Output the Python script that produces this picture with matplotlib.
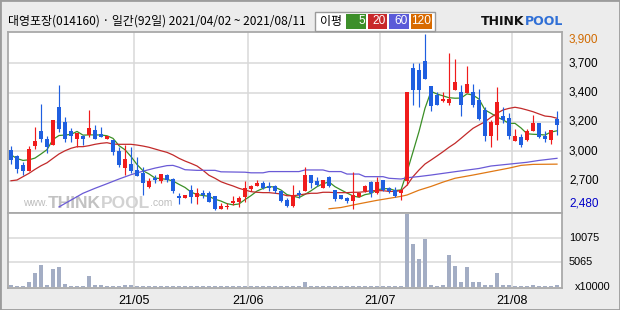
import numpy as np
import pandas as pd
import matplotlib
matplotlib.use("Agg")
import matplotlib.pyplot as plt
from matplotlib.patches import Rectangle

plt.rcParams['font.family'] = ['Liberation Sans', 'Noto Sans CJK KR', 'DejaVu Sans']

# ---------------- data ----------------
title = "대영포장(014160) · 일간(92일) 2021/04/02 ~ 2021/08/11"
holidays = ["2021-05-05", "2021-05-19"]
dates = pd.bdate_range("2021-04-02", "2021-08-11").drop(pd.to_datetime(holidays))

opens = [2965, 2915, 2845, 2795, 2995, 3115, 3055, 3005, 3310, 3190,
         3115, 3050, 3075, 3085, 3125, 3095, 3055, 3045, 2960, 2815,
         2850, 2805, 2780, 2665, 2735, 2715, 2760, 2730, 2590, 2580,
         2640, 2585, 2620, 2620, 2590, 2490, 2505, 2540, 2545, 2585,
         2650, 2675, 2700, 2670, 2675, 2635, 2560, 2510, 2615, 2635,
         2760, 2710, 2660, 2745, 2640, 2600, 2575, 2555, 2585, 2630,
         2705, 2615, 2720, 2655, 2640, 2615, 2715, 3625, 3610, 3680,
         3480, 3410, 3360, 3345, 3445, 3430, 3425, 3430, 3365, 3290,
         3075, 3165, 3240, 3220, 3040, 3065, 3045, 3115, 3185, 3075,
         3045, 3215]
highs = [2995, 2925, 2870, 2995, 3150, 3335, 3075, 3205, 3485, 3230,
         3140, 3105, 3085, 3285, 3165, 3150, 3080, 3045, 2985, 3005,
         2990, 2910, 2825, 2740, 2760, 2770, 2770, 2740, 2615, 2605,
         2680, 2660, 2640, 2635, 2590, 2540, 2535, 2595, 2595, 2710,
         2680, 2720, 2710, 2705, 2680, 2640, 2575, 2680, 2645, 2825,
         2760, 2745, 2720, 2755, 2645, 2605, 2585, 2785, 2620, 2680,
         2710, 2750, 2725, 2665, 2665, 2645, 3430, 3665, 3665, 3900,
         3480, 3435, 3430, 3750, 3700, 3490, 3640, 3495, 3455, 3315,
         3205, 3475, 3315, 3260, 3130, 3095, 3130, 3250, 3185, 3115,
         3125, 3275]
lows = [2850, 2780, 2760, 2795, 2970, 3030, 2940, 3005, 3110, 3030,
        3030, 2985, 3005, 3070, 3055, 3070, 3050, 2920, 2825, 2765,
        2775, 2755, 2600, 2660, 2700, 2700, 2705, 2620, 2530, 2575,
        2540, 2530, 2575, 2545, 2480, 2485, 2485, 2520, 2505, 2545,
        2635, 2670, 2650, 2635, 2615, 2545, 2505, 2505, 2575, 2630,
        2655, 2675, 2655, 2665, 2555, 2565, 2540, 2490, 2585, 2625,
        2585, 2610, 2635, 2615, 2585, 2560, 2680, 3325, 3310, 3535,
        3275, 3325, 3355, 3325, 3445, 3235, 3420, 3315, 3205, 3040,
        2990, 3045, 3180, 3055, 3040, 2990, 3040, 3115, 3060, 3030,
        3010, 3085]
closes = [2885, 2810, 2795, 2970, 3035, 3050, 2985, 3205, 3130, 3055,
          3075, 3105, 3055, 3140, 3055, 3070, 3075, 2950, 2845, 2890,
          2795, 2755, 2700, 2715, 2725, 2770, 2725, 2635, 2580, 2600,
          2585, 2620, 2600, 2545, 2485, 2510, 2515, 2555, 2580, 2660,
          2670, 2700, 2660, 2660, 2630, 2555, 2515, 2600, 2600, 2760,
          2700, 2680, 2720, 2670, 2570, 2570, 2555, 2600, 2620, 2675,
          2615, 2705, 2640, 2630, 2595, 2640, 3430, 3450, 3450, 3535,
          3320, 3325, 3375, 3375, 3515, 3325, 3495, 3325, 3215, 3075,
          3190, 3350, 3205, 3075, 3075, 3005, 3115, 3185, 3065, 3055,
          3125, 3165]
volumes = [540, 340, 340, 1150, 2990, 4610, 540, 3800, 4200, 750,
           340, 340, 340, 2370, 540, 540, 340, 340, 340, 540,
           540, 340, 340, 200, 200, 200, 200, 200, 200, 200,
           200, 200, 200, 200, 200, 200, 200, 200, 200, 340,
           200, 200, 200, 200, 200, 200, 200, 200, 200, 1150,
           200, 200, 200, 200, 200, 200, 200, 340, 200, 200,
           200, 340, 200, 200, 200, 200, 14900, 8890, 5700, 9900,
           540, 340, 540, 6650, 4410, 1020, 4200, 1020, 1150, 540,
           540, 2990, 540, 540, 200, 340, 340, 540, 340, 200,
           340, 540]

ma5_head = [2925, 2895, 2880, 2885]
ma20 = [2716, 2722, 2749, 2776, 2808, 2837, 2861, 2897, 2932, 2958,
        2978, 2991, 2991, 2999, 3010, 3018, 3023, 3012, 3010, 3010,
        3010, 3004, 2996, 2986, 2972, 2958, 2945, 2924, 2897, 2875,
        2856, 2835, 2800, 2760, 2736, 2708, 2690, 2674, 2655, 2641,
        2628, 2623, 2620, 2620, 2615, 2609, 2595, 2595, 2601, 2609,
        2615, 2615, 2623, 2623, 2620, 2620, 2620, 2623, 2623, 2628,
        2636, 2636, 2636, 2630, 2630, 2636, 2680, 2749, 2803, 2851,
        2883, 2916, 2950, 2986, 3018, 3058, 3099, 3139, 3166, 3192,
        3228, 3260, 3287, 3300, 3309, 3300, 3287, 3273, 3255, 3238,
        3233, 3220]
ma60_idx = [8, 10, 12, 14, 16, 18, 20, 22, 24, 26, 27, 28, 29, 31, 34, 35,
            39, 40, 42, 43, 48, 49, 52, 53, 55, 56, 58, 59, 62, 63, 65, 66,
            68, 70, 74, 78, 80, 84, 86, 88, 91]
ma60_val = [2505, 2560, 2615, 2655, 2692, 2730, 2765, 2793, 2818, 2838, 2840,
            2825, 2805, 2800, 2800, 2788, 2785, 2780, 2780, 2790, 2790, 2803,
            2803, 2790, 2790, 2770, 2770, 2749, 2749, 2736, 2730, 2740, 2750,
            2762, 2789, 2815, 2835, 2855, 2865, 2880, 2897]
ma120_idx = [53, 55, 58, 61, 63, 65, 66, 68, 70, 72, 74, 77, 80, 83, 85, 87, 91]
ma120_val = [2490, 2500, 2530, 2558, 2574, 2590, 2601, 2640, 2670, 2705,
             2736, 2762, 2790, 2818, 2840, 2848, 2850]

price_low, price_high = 2480, 3900
vol_ticks = [5065, 10075]
vol_unit = "x10000"
ma_labels = ["5", "20", "60", "120"]

# ---------------- layout helpers ----------------
W, H = 620, 310
fig = plt.figure(figsize=(W / 100, H / 100), dpi=100)
fig.patch.set_facecolor('#ececec')
renderer = fig.canvas.get_renderer()


def box(x0, y0, x1, y1):
    return [x0 / W, 1 - y1 / H, (x1 - x0) / W, (y1 - y0) / H]


def fpt(x, y):
    return x / W, 1 - y / H


AX_L, AX_R = 7.5, 562
ax = fig.add_axes(box(AX_L, 32, AX_R, 212.5))
axv = fig.add_axes(box(AX_L, 212.5, AX_R, 288), sharex=ax)

n = len(closes)
x = np.arange(n)
o = np.array(opens, float)
h = np.array(highs, float)
l = np.array(lows, float)
c = np.array(closes, float)

UP, DOWN = '#f01c1c', '#1f5fe0'
cols = np.where(c >= o, UP, DOWN)

spine_col = '#a9a9a9'
grid_col = '#d9d9d9'
for a in (ax, axv):
    a.set_facecolor('white')
    for s in a.spines.values():
        s.set_color(spine_col)
        s.set_linewidth(1.3)
    a.tick_params(length=0, labelleft=False, labelbottom=False,
                  labelright=False)
    a.set_yticks([])

# x limits: candle i at pixel 11 + 6 i
ax.set_xlim((AX_L - 11) / 6, (AX_R - 11) / 6)

# month boundaries
months = dates.month
bounds = [i for i in range(1, n) if months[i] != months[i - 1]]
blabels = [dates[i].strftime("%y/%m") for i in bounds]
for b in bounds:
    ax.axvline(b - 0.5, color=grid_col, lw=1.1, zorder=0.3)
    axv.axvline(b - 0.5, color=grid_col, lw=1.1, zorder=0.3)

# price scale
pp = 1420 / 176.0
ax.set_ylim(price_low - 2.5 * pp, price_high + 2 * pp)
levels = np.linspace(price_low, price_high, 7)
for v in levels[1:-1]:
    ax.axhline(v, color=grid_col, lw=1.1, zorder=0.3)

ytr = ax.get_yaxis_transform()
lab_x = 1 + (569 - AX_R) / (AX_R - AX_L)
for k, v in enumerate(levels):
    if k == 0:
        txt, col, va = f"{v:,.0f}", '#0000c8', 'bottom'
    elif k == len(levels) - 1:
        txt, col, va = f"{v:,.0f}", '#d06a00', 'top'
    else:
        txt, col, va = f"{round(v, -2):,.0f}", 'black', 'center'
    ax.text(lab_x, v, txt, transform=ytr, color=col, va=va, ha='left',
            fontsize=8.5, clip_on=False)


def chain(parts, x0, y0, host=None, **common):
    """Place text pieces one after another, starting at pixel (x0, y0)."""
    xx = x0
    for s, kw in parts:
        opts = dict(common)
        opts.update(kw)
        if host is None:
            t = fig.text(*fpt(xx, y0), s, va='center', ha='left', **opts)
        else:
            t = host.text(*fpt(xx, y0), s, transform=fig.transFigure,
                          va='center', ha='left', **opts)
        bb = t.get_window_extent(renderer=renderer)
        xx += bb.width
    return xx


# watermark
chain([("www.", dict(fontsize=7.5, color='#bdbdbd')),
       ("THINK", dict(fontsize=12.5, fontweight='bold', color='#c2c2c2')),
       ("POOL", dict(fontsize=12.5, fontweight='bold', color='#d2d2d2')),
       (".com", dict(fontsize=7.5, color='#bdbdbd'))],
      23, 203, host=ax, zorder=0.5)

# moving averages
ma5 = pd.Series(c).rolling(5).mean().to_numpy()
ma5[:len(ma5_head)] = ma5_head
ax.plot(x, ma5, color='#3b8f26', lw=0.9, zorder=1.5)
ax.plot(x, ma20, color='#c22a2a', lw=0.9, zorder=1.5)
ax.plot(ma60_idx, ma60_val, color='#6a5ad6', lw=0.9, zorder=1.5)
ax.plot(ma120_idx, ma120_val, color='#e07814', lw=0.9, zorder=1.5)

# candles
ax.vlines(x, l, h, colors=cols, lw=0.85, zorder=2)
body_bot = np.minimum(o, c)
body_h = np.maximum(np.abs(c - o), 6)
ax.bar(x, body_h, bottom=body_bot, width=0.8, color=cols, lw=0, zorder=2.5)

# volume
vp = 203.5
axv.set_ylim(-(288 - 287.2) * vp, (287.2 - 212.5) * vp)
for v in vol_ticks:
    axv.axhline(v, color=grid_col, lw=1.1, zorder=0.3)
axv.bar(x, volumes, width=0.75, color='#a3adc4', lw=0, zorder=2)
vtr = axv.get_yaxis_transform()
for v in vol_ticks:
    axv.text(lab_x, v, f"{v}", transform=vtr, fontsize=7.8, va='center',
             ha='left', clip_on=False)
axv.text(1 + (575 - AX_R) / (AX_R - AX_L), 0, vol_unit, transform=vtr,
         fontsize=7.8, va='center', ha='left', clip_on=False)

xtr = axv.get_xaxis_transform()
for b, lb in zip(bounds, blabels):
    axv.text(b - 0.5, -(301 - 288) / 75.5, lb, transform=xtr, fontsize=9,
             ha='center', va='center', clip_on=False)

# header
fig.text(*fpt(8, 21.5), title, fontsize=8.6, va='center', ha='left',
         family=['Noto Sans CJK KR', 'DejaVu Sans'])

# legend box
lx0, ly0 = fpt(315, 30.5)
fig.patches.append(Rectangle((lx0, ly0), 120 / W, 18 / H,
                             transform=fig.transFigure, facecolor='white',
                             edgecolor='#9a9a9a', lw=1))
fig.text(*fpt(320, 21.5), "이평", fontsize=8.6, va='center', ha='left',
         family=['Noto Sans CJK KR', 'DejaVu Sans'])
leg_cols = ['#3d8f2a', '#c8282a', '#5a5ad8', '#d86a00']
leg_x = [(346, 366), (368, 387), (389, 409), (411, 432)]
for (a0, a1), lc, lt in zip(leg_x, leg_cols, ma_labels):
    bx, by = fpt(a0, 28.5)
    fig.patches.append(Rectangle((bx, by), (a1 - a0) / W, 14 / H,
                                 transform=fig.transFigure, facecolor=lc,
                                 edgecolor='none'))
    fig.text(*fpt(a1 - 1, 21.5), lt, fontsize=8.6, color='white',
             va='center', ha='right')

# logo
chain([("THINK", dict(color='#111111')), ("POOL", dict(color='#2f6fd6'))],
      481, 21.5, fontsize=9, fontweight='bold', family='DejaVu Sans')

# outer border
fig.patches.append(Rectangle((0, 0), 1, 1, transform=fig.transFigure,
                             fill=False, edgecolor='#9c9c9c', lw=2))

fig.savefig("out.png", dpi=100)
